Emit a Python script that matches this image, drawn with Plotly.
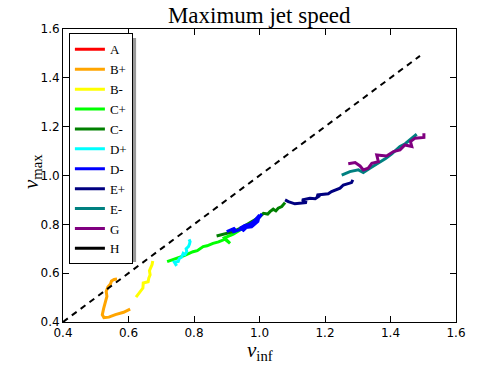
import plotly.graph_objects as go

# series values (v_inf, v_max)
labels = ["A", "B+", "B-", "C+", "C-", "D+", "D-", "E+", "E-", "G", "H"]
colors = ["red", "orange", "yellow", "lime", "green", "cyan", "blue",
          "navy", "teal", "purple", "black"]

# A and H have no visible points in the reference
a_x, a_y = [None], [None]
bp_x = [0.605, 0.585, 0.560, 0.540, 0.525, 0.520, 0.524, 0.528, 0.534, 0.532, 0.537, 0.545, 0.548, 0.556, 0.565]
bp_y = [0.453, 0.440, 0.430, 0.420, 0.418, 0.430, 0.455, 0.478, 0.505, 0.525, 0.543, 0.556, 0.568, 0.574, 0.576]
bm_x = [0.623, 0.632, 0.644, 0.645, 0.652, 0.660, 0.662, 0.666, 0.664, 0.668, 0.672, 0.674]
bm_y = [0.502, 0.518, 0.539, 0.560, 0.563, 0.565, 0.580, 0.593, 0.610, 0.620, 0.635, 0.650]
cp_x = [0.718, 0.735, 0.757, 0.770, 0.797, 0.810, 0.828, 0.840, 0.858, 0.875, 0.895, 0.910, 0.893, 0.920, 0.945, 0.965, 0.980]
cp_y = [0.647, 0.655, 0.666, 0.672, 0.688, 0.692, 0.709, 0.712, 0.722, 0.728, 0.739, 0.722, 0.745, 0.760, 0.780, 0.795, 0.810]
cm_x = [0.869, 0.885, 0.905, 0.920, 0.950, 0.980, 1.000, 1.012, 1.025, 1.032, 1.042, 1.050, 1.057, 1.068, 1.078]
cm_y = [0.752, 0.758, 0.764, 0.770, 0.790, 0.815, 0.830, 0.845, 0.842, 0.852, 0.862, 0.855, 0.866, 0.873, 0.889]
dp_x = [0.747, 0.740, 0.752, 0.755, 0.762, 0.767, 0.772, 0.778, 0.776, 0.783, 0.786, 0.788, 0.785]
dp_y = [0.630, 0.645, 0.648, 0.660, 0.665, 0.681, 0.676, 0.688, 0.700, 0.709, 0.718, 0.729, 0.738]
dm_x = [0.900, 0.910, 0.925, 0.918, 0.940, 0.955, 0.948, 0.970, 0.985, 1.000, 0.995, 0.976, 0.960, 0.940, 0.955, 0.975, 0.990, 1.007]
dm_y = [0.770, 0.777, 0.785, 0.768, 0.778, 0.790, 0.772, 0.800, 0.815, 0.838, 0.812, 0.790, 0.788, 0.784, 0.795, 0.800, 0.810, 0.843]
ep_x = [1.078, 1.088, 1.108, 1.130, 1.144, 1.130, 1.154, 1.170, 1.180, 1.175, 1.210, 1.220, 1.246, 1.256, 1.281, 1.285]
ep_y = [0.900, 0.893, 0.884, 0.886, 0.889, 0.900, 0.907, 0.905, 0.914, 0.920, 0.925, 0.934, 0.948, 0.961, 0.971, 0.982]
em_x = [1.251, 1.265, 1.276, 1.302, 1.317, 1.337, 1.350, 1.368, 1.385, 1.404, 1.418, 1.429, 1.445, 1.460, 1.480]
em_y = [1.002, 1.010, 1.016, 1.023, 1.012, 1.030, 1.040, 1.057, 1.070, 1.089, 1.105, 1.119, 1.130, 1.148, 1.169]
g_x = [1.271, 1.292, 1.307, 1.317, 1.332, 1.343, 1.363, 1.358, 1.388, 1.409, 1.429, 1.444, 1.465, 1.461, 1.475, 1.502, 1.502]
g_y = [1.048, 1.053, 1.039, 1.023, 1.030, 1.050, 1.057, 1.084, 1.080, 1.098, 1.105, 1.125, 1.119, 1.139, 1.153, 1.156, 1.173]
h_x, h_y = [None], [None]

xs = [a_x, bp_x, bm_x, cp_x, cm_x, dp_x, dm_x, ep_x, em_x, g_x, h_x]
ys = [a_y, bp_y, bm_y, cp_y, cm_y, dp_y, dm_y, ep_y, em_y, g_y, h_y]

diag = [0.4, 1.49]
ticks = [0.4, 0.6, 0.8, 1.0, 1.2, 1.4, 1.6]

fig = go.Figure()
for name, col, x, y in zip(labels, colors, xs, ys):
    fig.add_trace(go.Scatter(x=x, y=y, mode="lines", name=name,
                             line=dict(color=col, width=3)))

fig.add_trace(go.Scatter(x=diag, y=diag, mode="lines", showlegend=False,
                         line=dict(color="black", width=2, dash="6px,5px")))

# legend drop shadow
fig.add_shape(type="rect", xref="paper", yref="paper",
              x0=0.023, x1=0.186, y0=0.205, y1=0.969,
              fillcolor="#999999", line_width=0, layer="below")

axis = dict(range=[0.4, 1.6], tickvals=ticks, ticktext=[f"{t:.1f}" for t in ticks],
            ticks="inside", ticklen=6, tickcolor="black", mirror="ticks",
            showline=True, linecolor="black", linewidth=1, showgrid=False,
            zeroline=False, automargin=False,
            tickfont=dict(family="DejaVu Sans", size=12, color="black"))

serif = "Liberation Serif"

fig.update_layout(
    width=491, height=368,
    margin=dict(l=63, r=35, t=29, b=46),
    paper_bgcolor="white", plot_bgcolor="white",
    title=dict(text="Maximum jet speed", x=0.528, xanchor="center", y=0.96, yanchor="middle",
               font=dict(family=serif, size=23, color="black")),
    xaxis=axis,
    yaxis=axis,
    legend=dict(x=0.015, y=0.985, xanchor="left", yanchor="top",
                bgcolor="white", bordercolor="black", borderwidth=1,
                font=dict(family=serif, size=13, color="black"),
                tracegroupgap=0, itemwidth=30),
    showlegend=True,
)

# axis titles
fig.add_annotation(text="<i>v</i><sub>inf</sub>", xref="paper", yref="paper",
                   x=0.5, y=-0.1, xanchor="center", yanchor="middle", showarrow=False,
                   font=dict(family=serif, size=21, color="black"))
fig.add_annotation(text="<i>v</i><sub>max</sub>", xref="paper", yref="paper",
                   x=-0.079, y=0.515, xanchor="center", yanchor="middle", showarrow=False,
                   textangle=-90, font=dict(family=serif, size=21, color="black"))

fig.write_html("out.html", config={"displayModeBar": False},
               post_script="document.body.style.margin='0';")
